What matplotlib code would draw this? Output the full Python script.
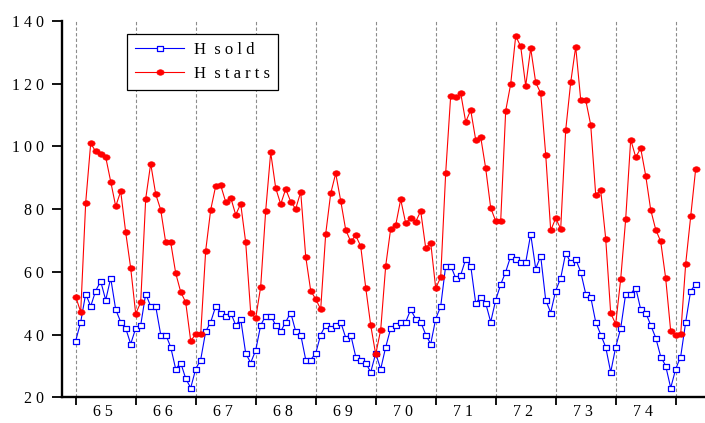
import numpy as np
import matplotlib
matplotlib.use("Agg")
import matplotlib.pyplot as plt
from matplotlib.path import Path
from matplotlib.transforms import Affine2D

# monthly values, Jan 1965 .. May 1975
hsold = [
    38, 44, 53, 49, 54, 57, 51, 58, 48, 44, 42, 37,
    42, 43, 53, 49, 49, 40, 40, 36, 29, 31, 26, 23,
    29, 32, 41, 44, 49, 47, 46, 47, 43, 45, 34, 31,
    35, 43, 46, 46, 43, 41, 44, 47, 41, 40, 32, 32,
    34, 40, 43, 42, 43, 44, 39, 40, 33, 32, 31, 28,
    34, 29, 36, 42, 43, 44, 44, 48, 45, 44, 40, 37,
    45, 49, 62, 62, 58, 59, 64, 62, 50, 52, 50, 44,
    51, 56, 60, 65, 64, 63, 63, 72, 61, 65, 51, 47,
    54, 58, 66, 63, 64, 60, 53, 52, 44, 40, 36, 28,
    36, 42, 53, 53, 55, 48, 47, 43, 39, 33, 30, 23,
    29, 33, 44, 54, 56,
]
hstarts = [
    52.1, 47.2, 82.1, 101.0, 98.4, 97.6, 96.6, 88.8, 80.9, 85.7, 72.6, 61.2,
    46.6, 50.3, 83.3, 94.5, 84.8, 79.8, 69.4, 69.4, 59.6, 53.6, 50.3, 38.0,
    40.1, 40.1, 66.8, 79.8, 87.4, 87.6, 82.3, 83.7, 78.2, 81.7, 69.4, 47.0,
    45.2, 55.3, 79.5, 98.1, 86.7, 81.6, 86.4, 82.4, 80.1, 85.5, 64.9, 54.0,
    51.3, 48.1, 72.1, 85.0, 91.4, 82.7, 73.4, 69.7, 71.6, 68.2, 55.0, 43.0,
    33.7, 41.5, 61.9, 73.8, 74.9, 83.1, 75.5, 77.3, 76.0, 79.4, 67.6, 69.3,
    54.8, 58.3, 91.6, 116.2, 115.7, 117.0, 107.8, 111.6, 102.1, 103.0, 93.0, 80.4,
    76.2, 76.2, 111.4, 119.9, 135.2, 131.9, 119.3, 131.3, 120.4, 117.0, 97.4, 73.2,
    77.1, 73.7, 105.2, 120.4, 131.8, 114.9, 114.8, 106.9, 84.6, 86.0, 70.6, 46.8,
    43.4, 57.7, 76.9, 102.2, 96.6, 99.4, 90.7, 79.8, 73.5, 69.7, 57.9, 41.1,
    39.9, 40.1, 62.6, 77.7, 92.9,
]
years = list(range(65, 75))
yticks = [20, 40, 60, 80, 100, 120, 140]
labels = ["H sold", "H starts"]


def spaced(s):
    # letter-spaced text like the reference ("1 4 0", "H s o l d")
    return " ".join(str(s)).replace("  ", " ")


plt.rcParams["font.family"] = ["Liberation Serif", "DejaVu Serif"]

months = np.arange(len(hsold))

# markers in the reference are a bit wider than tall
rect = Path([(-1, -0.72), (1, -0.72), (1, 0.72), (-1, 0.72), (-1, -0.72)],
            [Path.MOVETO, Path.LINETO, Path.LINETO, Path.LINETO, Path.CLOSEPOLY])
oval = Path.unit_circle().transformed(Affine2D().scale(1, 0.76))

fig = plt.figure(figsize=(7.05, 4.23), dpi=100)
ax = fig.add_axes([62 / 705, 25.7 / 423, 643 / 705, 376.3 / 423])

ax.plot(months, hsold, color="#0000ff", lw=0.8, marker=rect, ms=5.0,
        mfc="white", mec="#0000ff", mew=0.9, label=spaced(labels[0]))
ax.plot(months, hstarts, color="#ff0000", lw=0.8, marker=oval, ms=5.2,
        mfc="#ff0000", mec="#ff0000", mew=0.5, label=spaced(labels[1]))

ax.set_xlim(-2.74, 125.86)
ax.set_ylim(20, 140)

year_starts = [12 * i for i in range(len(years) + 1)]
ax.set_xticks(year_starts)
ax.set_xticklabels([])
ax.set_xticks([12 * i + 5.4 for i in range(len(years))], minor=True)
ax.set_xticklabels([spaced(y) for y in years], minor=True)
ax.tick_params(axis="x", which="major", direction="out", length=6, width=1.3)
ax.tick_params(axis="x", which="minor", length=0, pad=4.5, labelsize=11.5)

ax.set_yticks(yticks)
ax.set_yticklabels([spaced(v) for v in yticks])
ax.tick_params(axis="y", direction="out", length=7, width=1.3, pad=6, labelsize=11.5)

ax.grid(axis="x", which="major", color="#8c8c8c", lw=0.8, ls=(0, (3, 2)))
ax.set_axisbelow(True)

for side in ("top", "right"):
    ax.spines[side].set_visible(False)
for side in ("left", "bottom"):
    ax.spines[side].set_linewidth(1.7)

leg = ax.legend(loc="upper left", bbox_to_anchor=(127 / 705, 1 - 34 / 423),
                bbox_transform=fig.transFigure, borderaxespad=0, fontsize=12,
                handlelength=2.9, handletextpad=0.6, borderpad=0.5,
                labelspacing=0.45, fancybox=False, framealpha=1)
leg.get_frame().set_edgecolor("black")
leg.get_frame().set_linewidth(0.9)

fig.savefig("out.png", dpi=100)
